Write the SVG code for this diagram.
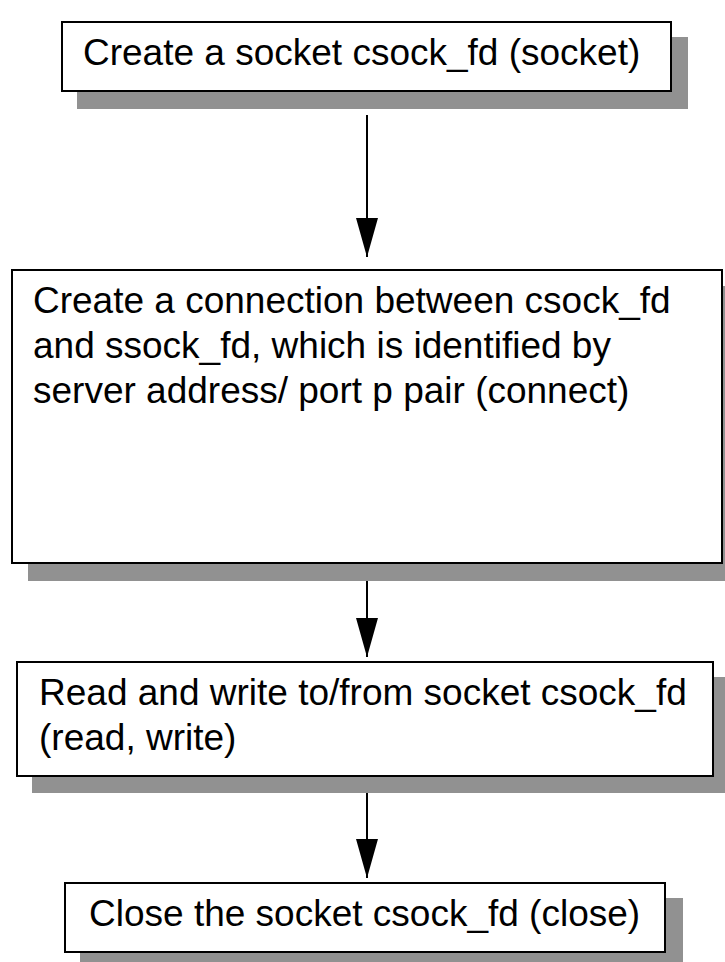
<svg xmlns="http://www.w3.org/2000/svg" width="725" height="962" viewBox="0 0 725 962">
  <style>
    .shadow { fill: #919191; stroke: none; }
    .box { fill: #ffffff; stroke: #000000; stroke-width: 2; }
    .label { font-family: "Liberation Sans", Arial, Helvetica, sans-serif; font-size: 37px; fill: #000000; }
    .edge { stroke: #000000; stroke-width: 2; fill: none; }
  </style>
  <defs>
    <!-- filled triangular head, drawn along +x so orient="auto" points it down the line -->
    <marker id="arrow" markerUnits="userSpaceOnUse" markerWidth="40" markerHeight="22" refX="39" refY="11" orient="auto" viewBox="0 0 40 22">
      <path d="M0,0 L39,11 L0,22 Z" fill="#000000"/>
    </marker>
  </defs>
  <rect x="0" y="0" width="725" height="962" fill="#ffffff"/>

  <!-- step 1: socket() -->
  <g id="create-socket">
    <rect class="shadow" x="77" y="37" width="611" height="72"/>
    <rect class="box" x="62" y="22" width="609" height="69"/>
    <text class="label" x="83" y="65">Create a socket csock_fd (socket)</text>
  </g>

  <!-- step 2: connect() -->
  <g id="connect">
    <rect class="shadow" x="28" y="286" width="710" height="295"/>
    <rect class="box" x="12" y="270" width="710" height="293"/>
    <text class="label" x="33" y="313">Create a connection between csock_fd</text>
    <text class="label" x="33" y="358">and ssock_fd, which is identified by</text>
    <text class="label" x="33" y="403">server address/ port p pair (connect)</text>
  </g>

  <!-- step 3: read()/write() -->
  <g id="read-write">
    <rect class="shadow" x="32" y="677" width="698" height="116"/>
    <rect class="box" x="17" y="662" width="696" height="114"/>
    <text class="label" x="39" y="705">Read and write to/from socket csock_fd</text>
    <text class="label" x="39" y="750">(read, write)</text>
  </g>

  <!-- step 4: close() -->
  <g id="close-socket">
    <rect class="shadow" x="80" y="898" width="603" height="71"/>
    <rect class="box" x="65" y="883" width="600" height="69"/>
    <text class="label" x="89" y="926">Close the socket csock_fd (close)</text>
  </g>

  <!-- flow arrows -->
  <g id="connectors">
    <line class="edge" x1="367" y1="115" x2="367" y2="257" marker-end="url(#arrow)"/>
    <line class="edge" x1="367" y1="581" x2="367" y2="657" marker-end="url(#arrow)"/>
    <line class="edge" x1="367" y1="793" x2="367" y2="878" marker-end="url(#arrow)"/>
  </g>
</svg>
